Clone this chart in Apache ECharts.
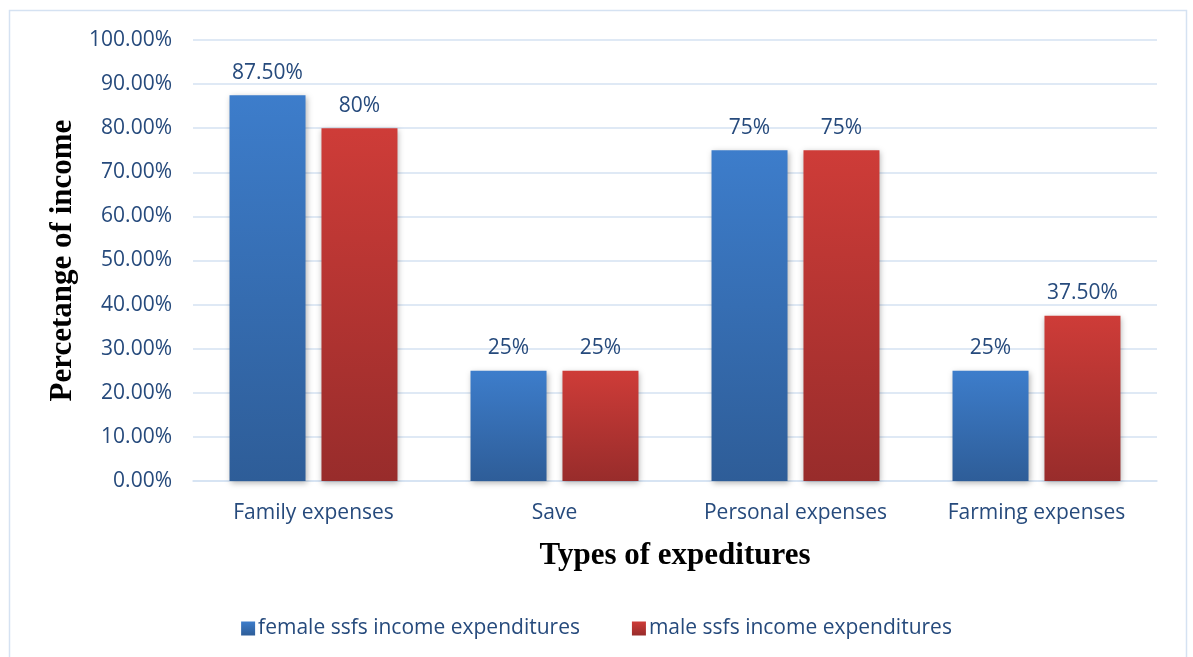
<!DOCTYPE html>
<html><head><meta charset="utf-8">
<script src="https://cdn.jsdelivr.net/npm/echarts@6/dist/echarts.min.js"></script>
<style>html,body{margin:0;padding:0;background:#fff}#c{width:1193px;height:657px}</style>
</head><body><div id="c"></div>
<script>
const categories = ['Family expenses', 'Save', 'Personal expenses', 'Farming expenses'];
const femaleValues = [87.5, 25, 75, 25];
const maleValues = [80, 25, 75, 37.5];
const seriesNames = ['female ssfs income expenditures', 'male ssfs income expenditures'];

const textColor = '#264a7c';
const fmt = v => (Number.isInteger(v) ? v + '%' : v.toFixed(2) + '%');
function grad(top, bottom) {
  return new echarts.graphic.LinearGradient(0, 0, 0, 1, [{offset: 0, color: top}, {offset: 1, color: bottom}]);
}
const chart = echarts.init(document.getElementById('c'));
chart.setOption({
  animation: false,
  backgroundColor: '#fff',
  graphic: [{type: 'rect', shape: {x: 9.5, y: 10.5, width: 1177, height: 660}, style: {fill: 'none', stroke: '#d5e2f2', lineWidth: 1.5}}],
  grid: {left: 193, right: 36, top: 40, bottom: 176},
  legend: {
    bottom: 13, left: 'center', itemWidth: 14, itemHeight: 14, itemGap: 52,
    icon: 'rect',
    textStyle: {color: textColor, fontSize: 21, fontFamily: 'Open Sans', padding: [0, 0, 0, -2]},
    data: seriesNames
  },
  xAxis: {
    type: 'category', data: categories,
    name: 'Types of expeditures', nameLocation: 'middle', nameGap: 59,
    nameTextStyle: {fontFamily: 'Liberation Serif', fontWeight: 'bold', fontSize: 31, color: '#000'},
    axisLine: {lineStyle: {color: '#d5e2f2', width: 1.5}},
    axisTick: {show: false},
    axisLabel: {color: textColor, fontSize: 21, fontFamily: 'Open Sans', margin: 22}
  },
  yAxis: {
    type: 'value', min: 0, max: 100, interval: 10,
    name: 'Percetange of income', nameLocation: 'middle', nameGap: 113, nameRotate: 90,
    nameTextStyle: {fontFamily: 'Liberation Serif', fontWeight: 'bold', fontSize: 31, color: '#000'},
    axisLabel: {color: textColor, fontSize: 21, fontFamily: 'Open Sans', margin: 21, formatter: v => v.toFixed(2) + '%'},
    splitLine: {lineStyle: {color: '#d5e2f2', width: 1.5}},
    axisLine: {show: false}, axisTick: {show: false}
  },
  series: [
    {
      name: seriesNames[0], type: 'bar', data: femaleValues, barWidth: 76, barGap: '21%',
      itemStyle: {color: grad('#3d7dcb', '#2e5d98'), shadowBlur: 6, shadowColor: 'rgba(0,0,0,0.3)', shadowOffsetX: 1, shadowOffsetY: 2},
      label: {show: true, position: 'top', distance: 12, color: textColor, fontSize: 21, fontFamily: 'Open Sans', formatter: p => fmt(p.value)}
    },
    {
      name: seriesNames[1], type: 'bar', data: maleValues, barWidth: 76,
      itemStyle: {color: grad('#ce3c38', '#982c2b'), shadowBlur: 6, shadowColor: 'rgba(0,0,0,0.3)', shadowOffsetX: 1, shadowOffsetY: 2},
      label: {show: true, position: 'top', distance: 12, color: textColor, fontSize: 21, fontFamily: 'Open Sans', formatter: p => fmt(p.value)}
    }
  ]
});
</script></body></html>
